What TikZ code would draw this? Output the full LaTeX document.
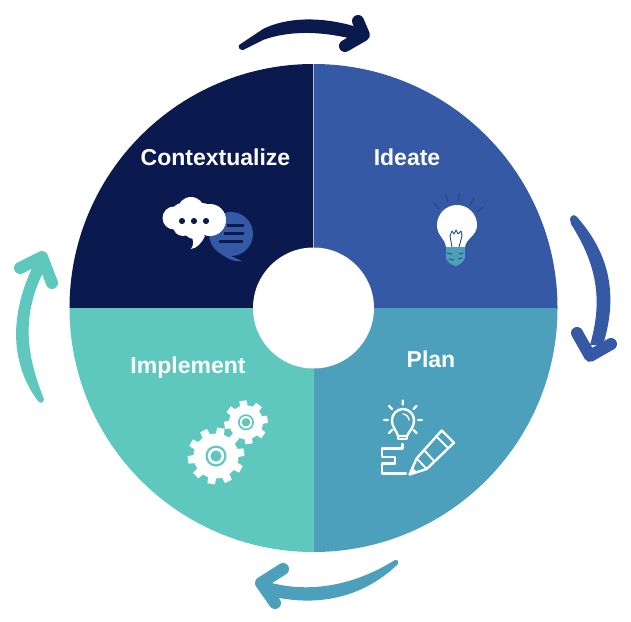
\documentclass[tikz,border=0pt]{standalone}
\usepackage{fontspec}
\setmainfont{Liberation Sans}
\definecolor{navy}{HTML}{0A1A4F}
\definecolor{royal}{HTML}{3559A5}
\definecolor{lagoon}{HTML}{4CA0BB}
\definecolor{mint}{HTML}{5EC8BE}
\definecolor{raycol}{HTML}{234A7C}
\newcommand{\gearshape}[5]{% cx cy outer root teeth
  \fill[white] (#1,#2) circle (#4);
  \foreach \k in {1,...,#5}{
    \pgfmathsetmacro{\ang}{\k*360/#5+8}
    \pgfmathsetmacro{\da}{0.62*180/#5}
    \pgfmathsetmacro{\db}{0.42*180/#5}
    \fill[white] ([shift={(#1,#2)}]\ang-\da:#4-1) -- ([shift={(#1,#2)}]\ang-\db:#3) -- ([shift={(#1,#2)}]\ang+\db:#3) -- ([shift={(#1,#2)}]\ang+\da:#4-1) -- cycle;
  }
}
\tikzset{
  label text/.style={text=white,font=\bfseries\fontsize{23}{26}\selectfont,inner sep=0pt},
  head/.style={line width=12pt,line cap=round,line join=round,fill=none},
  iconline/.style={draw=white,line width=2.4pt,line cap=round,line join=round},
  ray/.style={draw=raycol,line width=1.1pt,line cap=round}
}
\begin{document}
\begin{tikzpicture}[x=1pt,y=-1pt]
\useasboundingbox (0,0) rectangle (631,621);
\coordinate (c) at (313.5,308);
% quadrants
\begin{scope}
  \clip (c) circle (244pt);
  \fill[navy] (60,60) rectangle (313.5,308);
  \fill[royal] (313.5,60) rectangle (560,308);
  \fill[lagoon] (313.5,308) rectangle (560,556);
  \fill[mint] (60,308) rectangle (313.5,556);
  \draw[white!60!royal,line width=0.5pt] (313.5,60) -- (313.5,248);
\end{scope}
\fill[white] (c) circle (60.5pt);
% labels
\node[label text] (ctx) at (215.5,157) {Contextualize};
\node[label text] (ide) at (407,157) {Ideate};
\node[label text] (pla) at (431,359) {Plan};
\node[label text] (imp) at (188,368) {Implement};
% top arrow
\fill[navy] (239,45) -- (263,29) .. controls (285,18) and (320,15) .. (360,28) -- (360,41) .. controls (325,31) and (290,30) .. (263,40) -- (243,50) .. controls (240,50) and (238,48) .. (239,45) -- cycle;
\draw[navy,head] (358,21) -- (364,35) -- (345,46);
% right arrow
\fill[royal] (570,219) .. controls (571,215) and (574,214) .. (577,217) .. controls (606,250) and (620,290) .. (603,345) -- (590,345) .. controls (603,300) and (597,265) .. (571,224) -- cycle;
\draw[royal,head] (577,333) -- (590,356) -- (611,344);
% bottom arrow
\fill[lagoon] (395,560) .. controls (397,559) and (399,561) .. (398,564) .. controls (365,596) and (320,608) .. (270,596) -- (268,582) .. controls (310,594) and (355,585) .. (395,560) -- cycle;
\draw[lagoon,head] (283,569) -- (261,583) -- (275,603);
% left arrow
\fill[mint] (44,399) .. controls (44,403) and (40,404) .. (38,401) .. controls (11,365) and (7,315) .. (37,258) -- (47,265) .. controls (22,310) and (24,350) .. (44,399) -- cycle;
\draw[mint,head] (20,268) -- (42,257) -- (52,283);
% speech bubbles
\fill[royal] (231,234) circle (22pt);
\fill[royal] (222,252) -- (242,261) .. controls (234,262) and (226,259) .. (214,248) -- cycle;
\fill[white] (174,218) circle (11.5pt) (191,210.5) circle (13.5pt) (210,220) circle (16pt) (195,225) circle (14pt) (183,226) circle (10pt) (182,213) circle (10pt) (203,212) circle (9pt);
\fill[white] (190,232) -- (205,236) .. controls (201,244) and (197,248) .. (191,249) .. controls (194,245) and (194,240) .. (190,232) -- cycle;
\fill[navy] (182,221) circle (3.1pt) (194,221) circle (3.1pt) (206,221) circle (3.1pt);
\draw[navy,line width=3pt] (227,225) -- (244,225) (224,233) -- (244,233) (219,241) -- (243,241);
% idea bulb
\draw[ray] (433.5,203) -- (439,209) (446,194.5) -- (448,202) (459.5,193.5) -- (458,201) (474,198) -- (470,205) (483,207) -- (477,212);
\fill[white] (446,247) .. controls (445,238) and (437,236) .. (437,225) .. controls (437,214) and (446,205) .. (457,205) .. controls (468,205) and (477,214) .. (477,225) .. controls (477,236) and (466,238) .. (465,247) -- cycle;
\draw[raycol,line width=0.9pt,line join=round] (452,247) -- (450,236) -- (452,231) -- (454,234) -- (456,230) -- (458,234) -- (461,231) -- (462,236) -- (459,247);
\fill[lagoon] (446,247) -- (465,247) -- (465,258) .. controls (463,263) and (459,265) .. (456,266) .. controls (451,265) and (447,262) .. (446,258) -- cycle;
\draw[raycol,line width=0.8pt,line cap=round] (447,253) -- (452,254) (459,254) -- (463,253) (449,259) -- (454,260) (458,259) -- (462,258);
% plan icon
\draw[iconline] (398,436) .. controls (397,431) and (392,428) .. (392,420) .. controls (392,414) and (397,409) .. (403,409) .. controls (409,409) and (414,414) .. (414,420) .. controls (414,428) and (409,431) .. (407,436) -- cycle;
\draw[iconline] (398,436) -- (398,439) -- (407,439) -- (407,436);
\draw[white,line width=1.4pt,line cap=round] (403,414) .. controls (406,414) and (409,417) .. (409,420);
\draw[iconline] (402.7,400.5) -- (402.7,404.5) (389,406) -- (392,409) (416.5,406) -- (413.5,409) (384,420) -- (388,420) (418,420) -- (422,420) (389,433) -- (392,430) (416.5,433) -- (413.5,430);
\draw[iconline] (402.3,444) -- (402.3,448.3) -- (381.7,448.3) -- (381.7,456.7) -- (395,456.7) -- (395,463.3) -- (381.7,463.3) -- (381.7,473.3) -- (406,473.3);
\draw[iconline] (409.5,474.5) -- (416.7,458.3) -- (441.7,430.5) -- (454,442.7) -- (426.7,469) -- cycle;
\draw[iconline,line width=1.9pt] (416.7,458.3) -- (426.7,469) (424,450) -- (434,461) (436,436) -- (448.5,448.5);
\fill[white] (409,475) -- (412,467) -- (417,472) -- cycle;
% gears
\gearshape{216}{456}{28.5pt}{22.5pt}{10}
\fill[mint] (216,456) circle (10.5pt);
\fill[white] (216,456) circle (8.2pt);
\fill[mint] (216,456) circle (5.6pt);
\gearshape{246}{422.3}{22pt}{17pt}{8}
\fill[mint] (246,422.3) circle (8pt);
\fill[white] (246,422.3) circle (6.2pt);
\fill[mint] (246,422.3) circle (4.2pt);
\end{tikzpicture}
\end{document}
